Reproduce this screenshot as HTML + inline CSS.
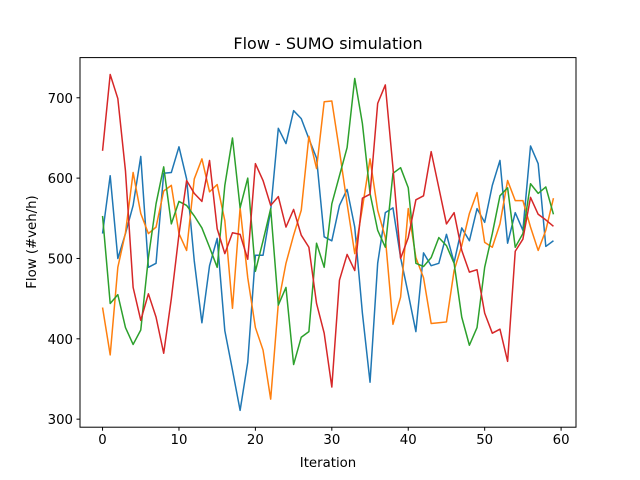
<!DOCTYPE html>
<html><head><meta charset="utf-8"><style>
body{margin:0;background:#fff;}
svg{display:block;font-family:"DejaVu Sans","Liberation Sans",sans-serif;}
</style></head><body>
<svg id="chart" width="640" height="480" viewBox="0 0 640 480">
<rect width="640" height="480" fill="#fff"/>
<text x="328" y="49" font-size="16" text-anchor="middle">Flow - SUMO simulation</text>
<g id="plot"></g>
<rect x="80" y="57.6" width="496" height="369.6" fill="none" stroke="#000" stroke-width="1"/>
<text x="328" y="467" font-size="13.3" text-anchor="middle">Iteration</text>
<text x="0" y="0" font-size="13.3" text-anchor="middle" transform="translate(36,242) rotate(-90)">Flow (#veh/h)</text>
</svg>
<script>
const xTicks = [0, 10, 20, 30, 40, 50, 60];
const yTicks = [300, 400, 500, 600, 700];
const seriesBlue = [531,603,500,531,566,627,489,494,606,607,639,599,497,420,491,525,410,361,311,371,504,504,560,662,643,684,674,649,625,527,522,566,586,539,432,346,494,557,563,501,456,409,507,491,494,530,495,538,522,562,545,591,622,519,557,535,640,618,515,522];
const seriesOrange = [439,380,489,532,607,556,531,539,584,591,531,510,599,624,583,592,547,438,563,476,414,386,325,444,494,529,560,652,612,695,696,634,568,506,563,624,560,526,418,452,562,501,476,419,420,421,485,516,556,582,520,514,543,597,572,572,539,510,535,575];
const seriesGreen = [553,444,455,414,393,411,501,568,614,543,571,566,553,538,514,489,591,650,563,600,484,522,562,442,464,368,402,409,519,489,568,603,638,724,668,581,535,514,606,613,588,494,490,501,526,516,494,427,392,414,489,531,578,588,514,531,593,581,589,555];
const seriesRed = [634,729,699,609,464,423,456,427,382,450,530,597,581,571,622,537,506,532,530,499,618,597,566,577,539,561,529,514,444,407,340,473,505,485,575,580,693,716,613,500,526,573,578,633,588,543,557,510,483,486,432,407,412,372,509,524,576,555,548,540];
const colors = ['#1f77b4','#ff7f0e','#2ca02c','#d62728'];
const names = ['series-blue','series-orange','series-green','series-red'];
const X0=80, X1=576, Y0=57.6, Y1=427.2;
const xMin=-2.95, xMax=61.95, yMin=290, yMax=750;
function sx(v){return X0+(v-xMin)/(xMax-xMin)*(X1-X0);}
function sy(v){return Y1-(v-yMin)/(yMax-yMin)*(Y1-Y0);}
const NS='http://www.w3.org/2000/svg';
const svg=document.getElementById('chart');
const plot=document.getElementById('plot');
[seriesBlue,seriesOrange,seriesGreen,seriesRed].forEach((s,k)=>{
  const p=document.createElementNS(NS,'polyline');
  p.setAttribute('points',s.map((v,i)=>sx(i).toFixed(2)+','+sy(v).toFixed(2)).join(' '));
  p.setAttribute('fill','none');
  p.setAttribute('stroke',colors[k]);
  p.setAttribute('stroke-width','1.5');
  p.setAttribute('stroke-linejoin','round');
  
  
  plot.appendChild(p);
});
xTicks.forEach(t=>{
  const l=document.createElementNS(NS,'line');
  l.setAttribute('x1',sx(t));l.setAttribute('x2',sx(t));l.setAttribute('y1',Y1);l.setAttribute('y2',Y1+3.5);
  l.setAttribute('stroke','#000');
  
  
  svg.appendChild(l);
  const tx=document.createElementNS(NS,'text');
  tx.setAttribute('x',sx(t));tx.setAttribute('y',Y1+17);tx.setAttribute('font-size','13.3');tx.setAttribute('text-anchor','middle');
  tx.textContent=t;
  
  
  svg.appendChild(tx);
});
yTicks.forEach(t=>{
  const l=document.createElementNS(NS,'line');
  l.setAttribute('x1',X0-3.5);l.setAttribute('x2',X0);l.setAttribute('y1',sy(t));l.setAttribute('y2',sy(t));
  l.setAttribute('stroke','#000');
  
  
  svg.appendChild(l);
  const tx=document.createElementNS(NS,'text');
  tx.setAttribute('x',X0-7);tx.setAttribute('y',sy(t)+5);tx.setAttribute('font-size','13.3');tx.setAttribute('text-anchor','end');
  tx.textContent=t;
  
  
  svg.appendChild(tx);
});
</script>
</body></html>
